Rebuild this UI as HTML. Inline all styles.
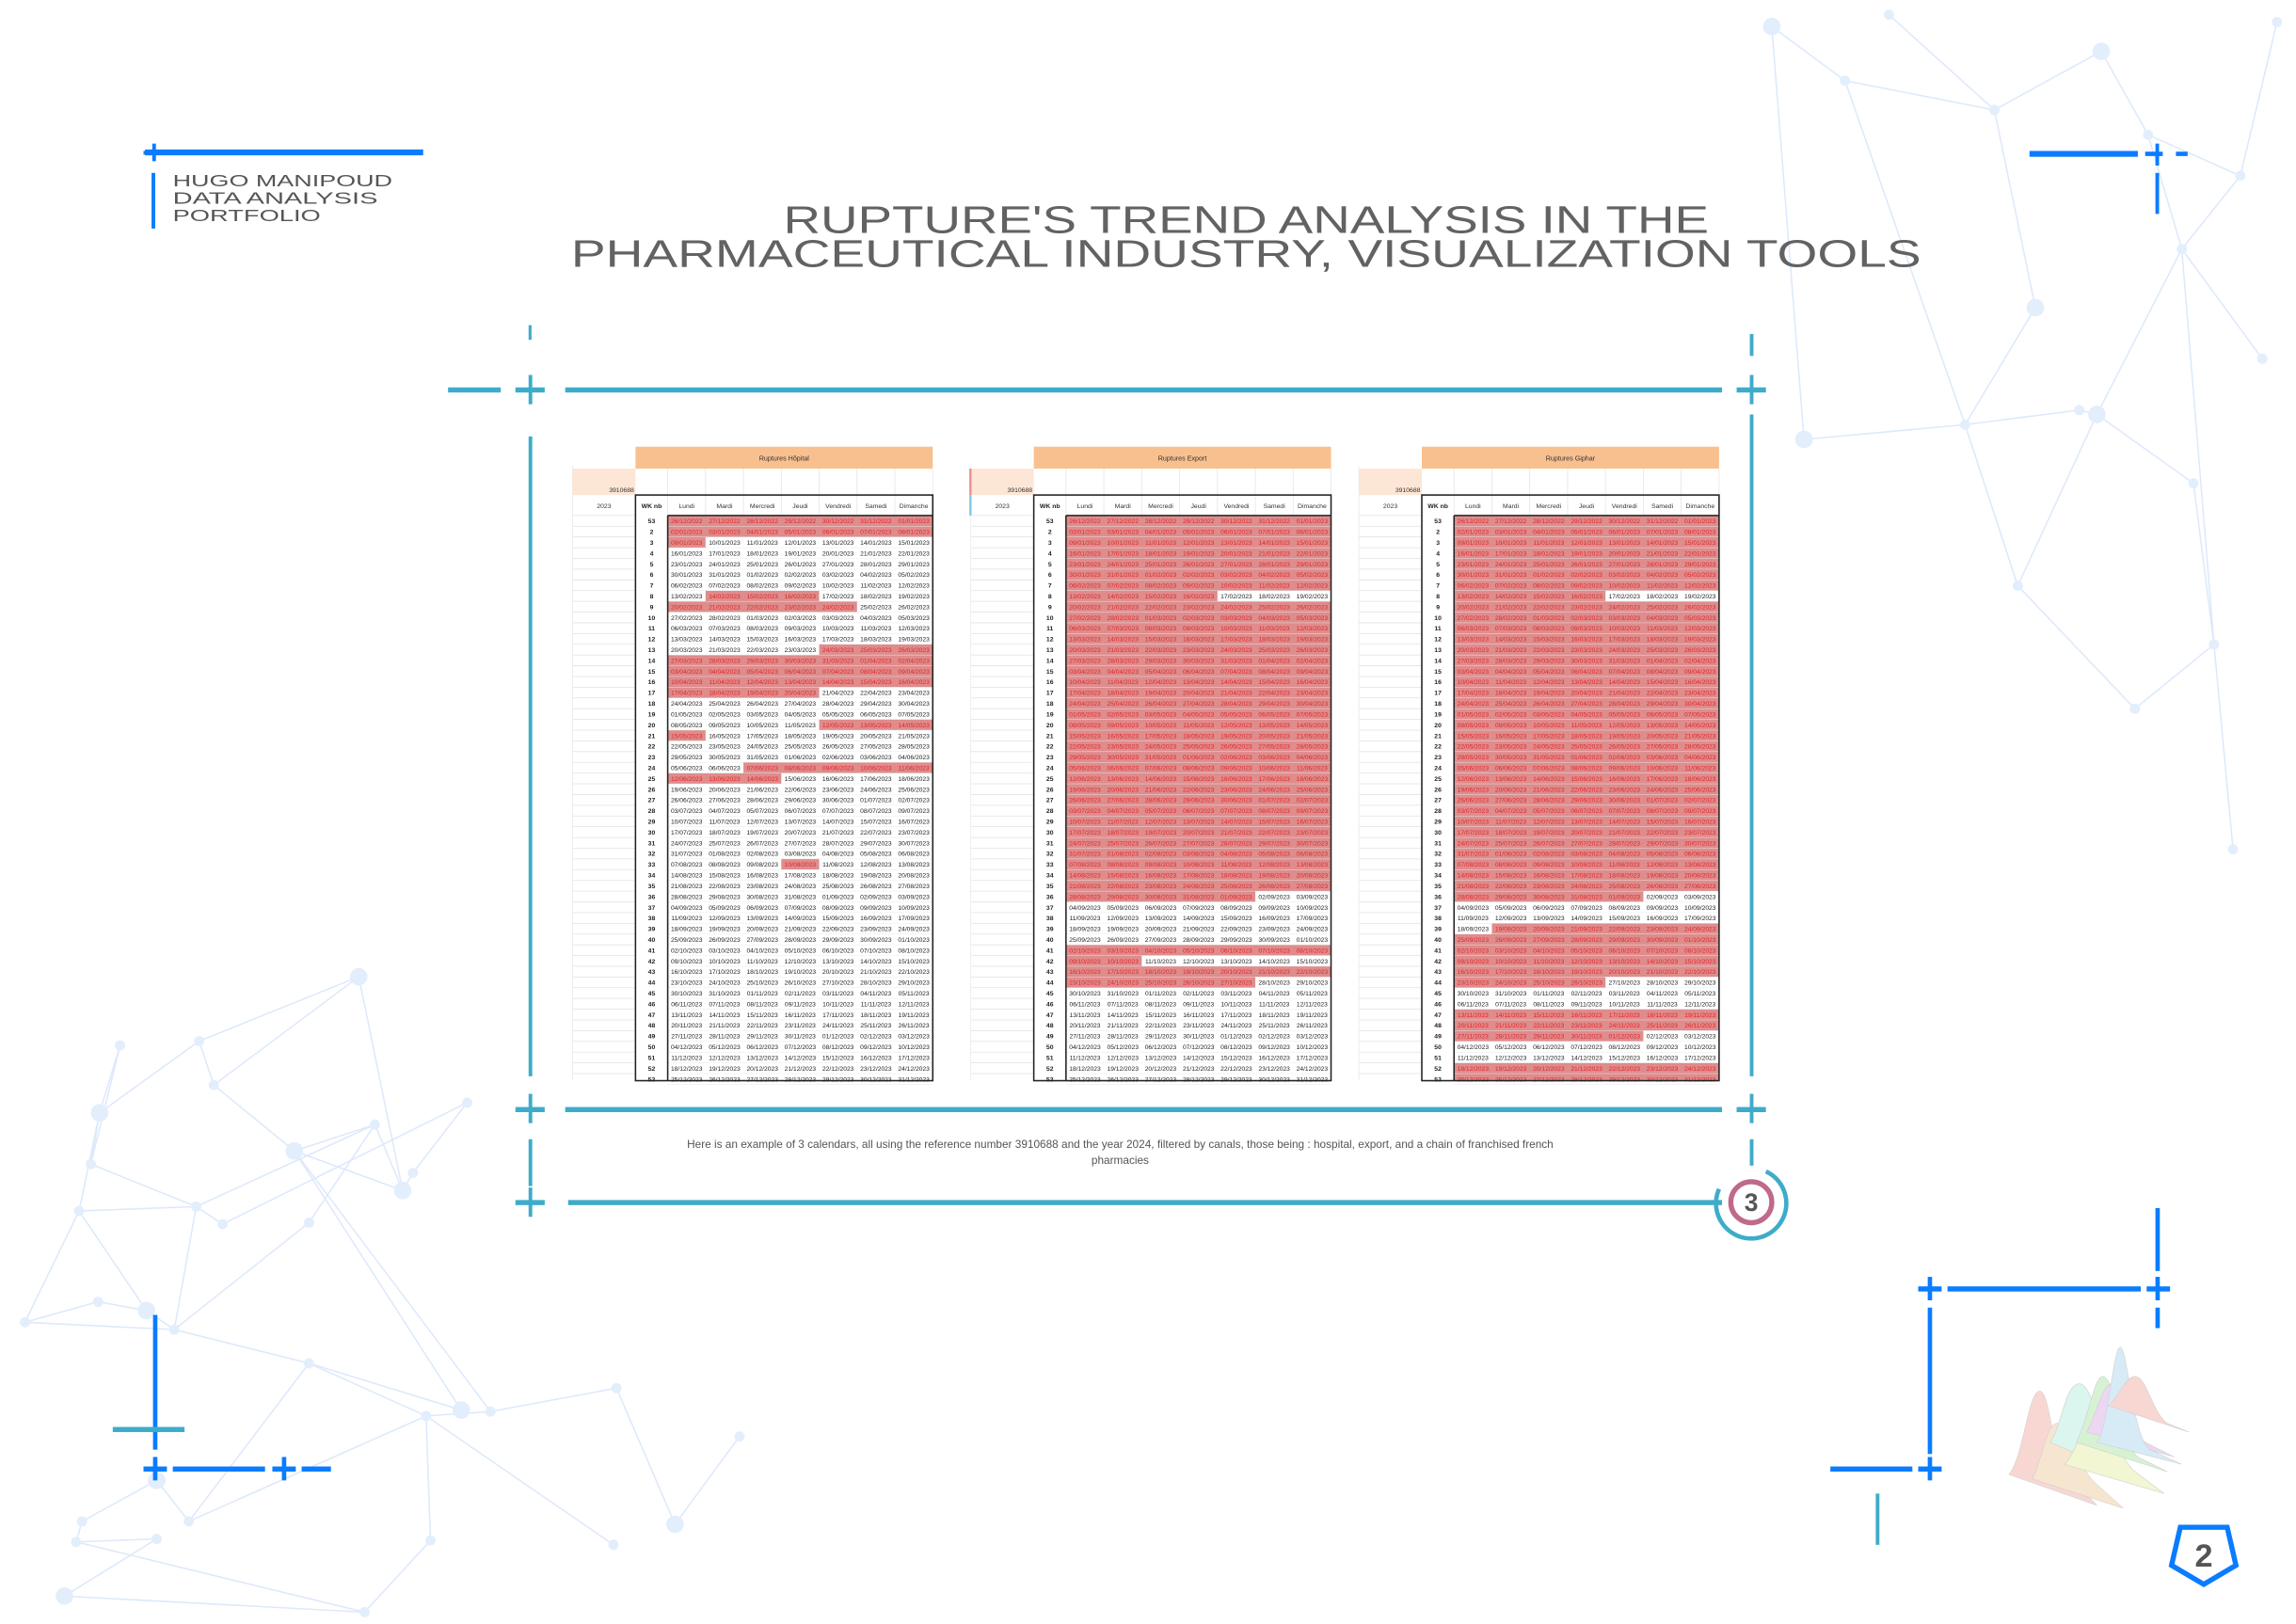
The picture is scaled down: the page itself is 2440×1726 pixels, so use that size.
<!DOCTYPE html>
<html><head><meta charset="utf-8">
<style>
html,body{margin:0;padding:0;background:#fff;}
svg{display:block;}
text{font-family:"Liberation Sans",sans-serif;}
</style></head>
<body>
<svg id="page" width="2440" height="1726" viewBox="0 0 1568 1109" xmlns="http://www.w3.org/2000/svg">
<g id="net" stroke="#dde9fb" stroke-width="1" fill="#e3eefc"></g>

<g>
<rect x="99" y="102" width="190" height="4" fill="#0a7cff"/>
<rect x="104" y="98" width="2.5" height="12" fill="#0a7cff"/><rect x="98" y="103" width="14" height="2.5" fill="#0a7cff"/>
<rect x="103.5" y="118" width="2.5" height="38" fill="#0a7cff"/>
<text x="118" y="127" font-size="11.5" fill="#555" textLength="150" lengthAdjust="spacingAndGlyphs">HUGO MANIPOUD</text>
<text x="118" y="139" font-size="11.5" fill="#555" textLength="140" lengthAdjust="spacingAndGlyphs">DATA ANALYSIS</text>
<text x="118" y="151" font-size="11.5" fill="#555" textLength="101" lengthAdjust="spacingAndGlyphs">PORTFOLIO</text>
</g>
<g>
<rect x="1386" y="103" width="74" height="4" fill="#0a7cff"/>
<rect x="1472" y="98" width="2.5" height="15" fill="#0a7cff"/><rect x="1465" y="103.5" width="12" height="3" fill="#0a7cff"/><rect x="1486" y="103.5" width="8" height="3" fill="#0a7cff"/>
<rect x="1472" y="118" width="2.5" height="28" fill="#0a7cff"/>
</g>

<text x="851" y="159" text-anchor="middle" font-size="26" fill="#626262" textLength="632" lengthAdjust="spacingAndGlyphs">RUPTURE'S TREND ANALYSIS IN THE</text>
<text x="851" y="182" text-anchor="middle" font-size="26" fill="#626262" textLength="922" lengthAdjust="spacingAndGlyphs">PHARMACEUTICAL INDUSTRY, VISUALIZATION TOOLS</text>

<g fill="#3eacc9">
<rect x="361" y="222" width="2" height="10"/>
<rect x="1195" y="228" width="2.5" height="15"/>
<rect x="306" y="264.5" width="36" height="3.5"/>
<rect x="352" y="264.5" width="20" height="3.5"/><rect x="361" y="256" width="2.5" height="20"/>
<rect x="386" y="264.5" width="790" height="3.5"/>
<rect x="1186" y="264.5" width="20" height="3.5"/><rect x="1195" y="256" width="2.5" height="20"/>
<rect x="361" y="298" width="2.5" height="437"/>
<rect x="1195" y="283" width="2.5" height="452"/>
<rect x="352" y="756" width="20" height="3.5"/><rect x="361" y="747" width="2.5" height="20"/>
<rect x="386" y="756" width="790" height="3.5"/>
<rect x="1186" y="756" width="20" height="3.5"/><rect x="1195" y="747" width="2.5" height="20"/>
<rect x="361" y="778" width="2.5" height="32"/>
<rect x="352" y="819.5" width="20" height="3.5"/><rect x="361" y="811" width="2.5" height="20"/>
<rect x="388" y="819.5" width="788" height="3.5"/>
<rect x="1195" y="778" width="2.5" height="18"/>
</g>
<text x="765" y="784" text-anchor="middle" font-size="7.6" fill="#555">Here is an example of 3 calendars, all using the reference number 3910688 and the year 2024, filtered by canals, those being : hospital, export, and a chain of franchised french</text>
<text x="765" y="795" text-anchor="middle" font-size="7.6" fill="#555">pharmacies</text>

<g>
<path d="M1206 800 A24 24 0 1 1 1174 812" fill="none" stroke="#3eacc9" stroke-width="3"/>
<circle cx="1196" cy="821" r="14" fill="none" stroke="#c0698a" stroke-width="3.5"/>
<text x="1196" y="827" text-anchor="middle" font-size="17" font-weight="bold" fill="#555">3</text>
</g>

<g id="cals"></g>

<g>
<rect x="104.5" y="898" width="3" height="92" fill="#0a7cff"/>
<rect x="77" y="974.5" width="49" height="3.5" fill="#3eacc9"/>
<rect x="98" y="1001.5" width="16" height="3.5" fill="#0a7cff"/><rect x="104.5" y="995" width="3" height="16" fill="#0a7cff"/>
<rect x="118" y="1001.5" width="63" height="3.5" fill="#0a7cff"/>
<rect x="186" y="1001.5" width="16" height="3.5" fill="#0a7cff"/><rect x="192.5" y="995" width="3" height="16" fill="#0a7cff"/>
<rect x="206" y="1001.5" width="20" height="3.5" fill="#0a7cff"/>
</g>
<g fill="#0a7cff">
<rect x="1472" y="825" width="3" height="43"/>
<rect x="1310" y="878.5" width="16" height="3.5"/><rect x="1316.5" y="872" width="3" height="16"/>
<rect x="1330" y="878.5" width="132" height="3.5"/>
<rect x="1466" y="878.5" width="16" height="3.5"/><rect x="1472" y="872" width="3" height="16"/>
<rect x="1472" y="893" width="3" height="14"/>
<rect x="1316.5" y="893" width="3" height="100"/>
<rect x="1250" y="1001.5" width="56" height="3.5"/>
<rect x="1310" y="1001.5" width="16" height="3.5"/><rect x="1316.5" y="995" width="3" height="16"/>
<rect x="1281" y="1020" width="2.5" height="35" fill="#3eacc9"/>
</g>
<g stroke="#aaa" stroke-width="0.4" opacity="0.55">
<path d="M1372 1007 C1382 995 1385 950 1393 950 C1400 950 1402 995 1410 1005 L1432 1028 Z" fill="#f4b8b0"/>
<path d="M1388 1010 C1395 995 1398 972 1405 972 C1414 972 1418 1000 1430 1012 L1450 1030 Z" fill="#f2d2a8"/>
<path d="M1400 985 C1408 975 1410 945 1420 945 C1430 945 1434 985 1445 995 L1470 1015 Z" fill="#bfeee2"/>
<path d="M1410 1000 C1420 990 1425 960 1432 960 C1442 960 1445 995 1458 1005 L1478 1020 Z" fill="#e8efb0"/>
<path d="M1418 985 C1426 970 1430 940 1436 940 C1444 940 1448 985 1460 995 L1480 1005 Z" fill="#b8e8b0"/>
<path d="M1425 978 C1432 965 1436 945 1442 945 C1450 945 1452 975 1465 985 L1485 995 Z" fill="#dcb8e6"/>
<path d="M1432 985 C1440 975 1443 920 1448 920 C1453 920 1456 980 1468 990 L1490 1000 Z" fill="#b8dcf0"/>
<path d="M1440 960 C1448 952 1452 940 1458 940 C1466 940 1470 965 1480 972 L1495 978 Z" fill="#f4b8b0"/>
</g>
<g>
<polygon points="1489,1043 1521,1043 1527,1069 1505,1082 1483,1069" fill="none" stroke="#0a7cff" stroke-width="3.5"/>
<text x="1505" y="1070" text-anchor="middle" font-size="22" font-weight="bold" fill="#555">2</text>
</g>
</svg>
<script>
const nodes=[[1210,18],[1260,55],[1290,10],[1362,75],[1435,35],[1467,92],[1490,170],[1530,120],[1390,210],[1342,290],[1420,280],[1378,400],[1432,283],[1458,484],[1512,440],[1525,580],[1232,300],[1555,15],[1545,245],[1498,330],
[245,667],[136,711],[82,714],[146,741],[68,760],[62,795],[54,827],[134,824],[201,786],[256,768],[319,753],[282,801],[275,813],[211,835],[17,903],[67,889],[100,895],[119,908],[211,931],[291,967],[315,963],[335,964],[421,948],[505,981],[461,1041],[419,1055],[294,1052],[129,1039],[107,1011],[56,1039],[52,1053],[107,1051],[44,1090],[249,1101],[152,836]];
const edges=[[0,1],[1,3],[2,3],[3,4],[4,5],[5,6],[6,7],[5,7],[3,8],[8,9],[9,10],[10,12],[9,16],[11,9],[11,12],[12,6],[13,11],[13,14],[14,15],[6,14],[0,16],[17,7],[18,6],[19,12],[19,14],[1,9],
[20,21],[20,23],[21,23],[21,24],[22,24],[24,25],[25,27],[23,28],[28,29],[29,27],[30,31],[29,32],[31,32],[32,20],[33,29],[26,27],[26,34],[34,35],[35,36],[36,26],[27,37],[36,37],[37,38],[33,37],[38,39],[38,40],[39,41],[41,42],[42,44],[43,44],[39,45],[39,46],[38,47],[47,48],[48,49],[49,50],[50,51],[51,52],[52,53],[46,53],[27,54],[54,30],[28,32],[40,28],[41,28],[25,22],[24,26],[34,37],[50,53],[47,39]];
const net=document.getElementById('net');
const NS='http://www.w3.org/2000/svg';
edges.forEach(e=>{const l=document.createElementNS(NS,'line');
l.setAttribute('x1',nodes[e[0]][0]);l.setAttribute('y1',nodes[e[0]][1]);l.setAttribute('x2',nodes[e[1]][0]);l.setAttribute('y2',nodes[e[1]][1]);


net.appendChild(l);});
nodes.forEach((n,i)=>{const c=document.createElementNS(NS,'circle');
c.setAttribute('cx',n[0]);c.setAttribute('cy',n[1]);c.setAttribute('r',(i%4===0)?6:3.5);c.setAttribute('stroke','none');


net.appendChild(c);});

const calTitles=['Ruptures Hôpital','Ruptures Export','Ruptures Giphar'];
const calOffsets=[0,272,537];
const dayNames=['Lundi','Mardi','Mercredi','Jeudi','Vendredi','Samedi','Dimanche'];
const weekNums=[53,2,3,4,5,6,7,8,9,10,11,12,13,14,15,16,17,18,19,20,21,22,23,24,25,26,27,28,29,30,31,32,33,34,35,36,37,38,39,40,41,42,43,44,45,46,47,48,49,50,51,52,53];
const redHospital=[[0,0,6],[1,0,6],[2,0,0],[7,1,3],[8,0,4],[12,4,6],[13,0,6],[14,0,6],[15,0,6],[16,0,3],[19,4,6],[20,0,0],[23,2,6],[24,0,2],[32,3,3]];
const redExport=(function(){const r=[];for(let i=0;i<35;i++){if(i===7)r.push([i,0,3]);else r.push([i,0,6]);}r.push([35,0,4]);r.push([40,0,6]);r.push([41,0,1]);r.push([42,0,6]);r.push([43,0,4]);return r;})();
const redGiphar=(function(){const r=[];for(let i=0;i<35;i++){if(i===7)r.push([i,0,3]);else r.push([i,0,6]);}r.push([35,0,4]);r.push([38,1,6]);r.push([39,0,6]);r.push([40,0,6]);r.push([41,0,6]);r.push([42,0,6]);r.push([43,0,3]);r.push([46,0,6]);r.push([47,0,6]);r.push([48,0,4]);r.push([51,0,6]);r.push([52,0,6]);return r;})();
const redSets=[redHospital,redExport,redGiphar];

const cals=document.getElementById('cals');
function mk(tag,attrs,parent){const e=document.createElementNS(NS,tag);for(const k in attrs)e.setAttribute(k,attrs[k]);parent.appendChild(e);return e;}
function pad(n){return (n<10?'0':'')+n;}
const start=new Date(2022,11,26);
const names=['hospital','export','giphar'];
calOffsets.forEach((ox,ci)=>{
  const g=mk('g',{},cals);
  
  
  const x0=391+ox, xT=434+ox, xD=456+ox, xE=637+ox, cw=(xE-xD)/7, y0=352, rh=7.33;
  for(let r=0;r<=53;r++){const y=y0+r*rh; if(y>738)break; mk('line',{x1:x0,y1:y,x2:xT,y2:y,stroke:'#e2e2e2','stroke-width':0.5},g);}
  mk('line',{x1:x0,y1:318,x2:x0,y2:738,stroke:'#e8e8e8','stroke-width':0.5},g);
  const hdr=mk('rect',{x:xT,y:305,width:xE-xT,height:15,fill:'#f9c08f'},g);
  
  
  mk('text',{x:(xT+xE)/2,y:314.5,'text-anchor':'middle','font-size':4.6,fill:'#333'},g).textContent=calTitles[ci];
  mk('rect',{x:x0,y:320,width:xT-x0,height:18,fill:'#fde6d6'},g);
  if(ci===1){mk('rect',{x:x0-1,y:320,width:1.5,height:18,fill:'#e58f8f'},g);mk('rect',{x:x0-1,y:338,width:1.5,height:14,fill:'#7ec8e0'},g);}
  mk('text',{x:xT-1,y:336,'text-anchor':'end','font-size':4.4,fill:'#333'},g).textContent='3910688';
  mk('text',{x:(x0+xT)/2,y:347,'text-anchor':'middle','font-size':4.4,fill:'#333'},g).textContent='2023';
  for(let c=0;c<=7;c++){const x=xD+c*cw; mk('line',{x1:x,y1:320,x2:x,y2:338,stroke:'#e4e4e4','stroke-width':0.5},g);}
  mk('line',{x1:xT,y1:338,x2:xE,y2:338,stroke:'#e4e4e4','stroke-width':0.5},g);
  mk('text',{x:(xT+xD)/2,y:347,'text-anchor':'middle','font-size':4.4,'font-weight':'bold',fill:'#222'},g).textContent='WK nb';
  dayNames.forEach((d,c)=>{mk('text',{x:xD+(c+0.5)*cw,y:347,'text-anchor':'middle','font-size':4.4,fill:'#333'},g).textContent=d;
    mk('line',{x1:xD+c*cw,y1:338,x2:xD+c*cw,y2:352,stroke:'#e4e4e4','stroke-width':0.5},g);});
  redSets[ci].forEach(rr=>{const y=y0+rr[0]*rh; if(y>=738)return;
    const rc=mk('rect',{x:xD+rr[1]*cw,y:y,width:(rr[2]-rr[1]+1)*cw,height:Math.min(rh,738-y),fill:'#df8c8c'},g);
    
    });
  const isRed=(r,c)=>redSets[ci].some(rr=>rr[0]===r&&c>=rr[1]&&c<=rr[2]);
  weekNums.forEach((w,r)=>{const y=y0+r*rh; if(y>=736)return;
    mk('text',{x:(xT+xD)/2,y:y+5.3,'text-anchor':'middle','font-size':4.4,'font-weight':'bold',fill:'#222'},g).textContent=w;
    for(let c=0;c<7;c++){const d=new Date(start.getTime()+(r*7+c)*86400000);
      const s=pad(d.getDate())+'/'+pad(d.getMonth()+1)+'/'+d.getFullYear();
      mk('text',{x:xD+(c+0.5)*cw,y:y+5.3,'text-anchor':'middle','font-size':4.3,fill:isRed(r,c)?'#e0242a':'#222'},g).textContent=s;}
    mk('line',{x1:xD,y1:y+rh,x2:xE,y2:y+rh,stroke:'#e6e6e6','stroke-width':0.3},g);
  });
  mk('rect',{x:xT,y:338,width:xE-xT,height:400,fill:'none',stroke:'#222','stroke-width':1},g);
  mk('line',{x1:xD,y1:352,x2:xE,y2:352,stroke:'#222','stroke-width':1},g);
  mk('line',{x1:xD,y1:352,x2:xD,y2:738,stroke:'#222','stroke-width':1},g);
});
</script>
</body></html>
